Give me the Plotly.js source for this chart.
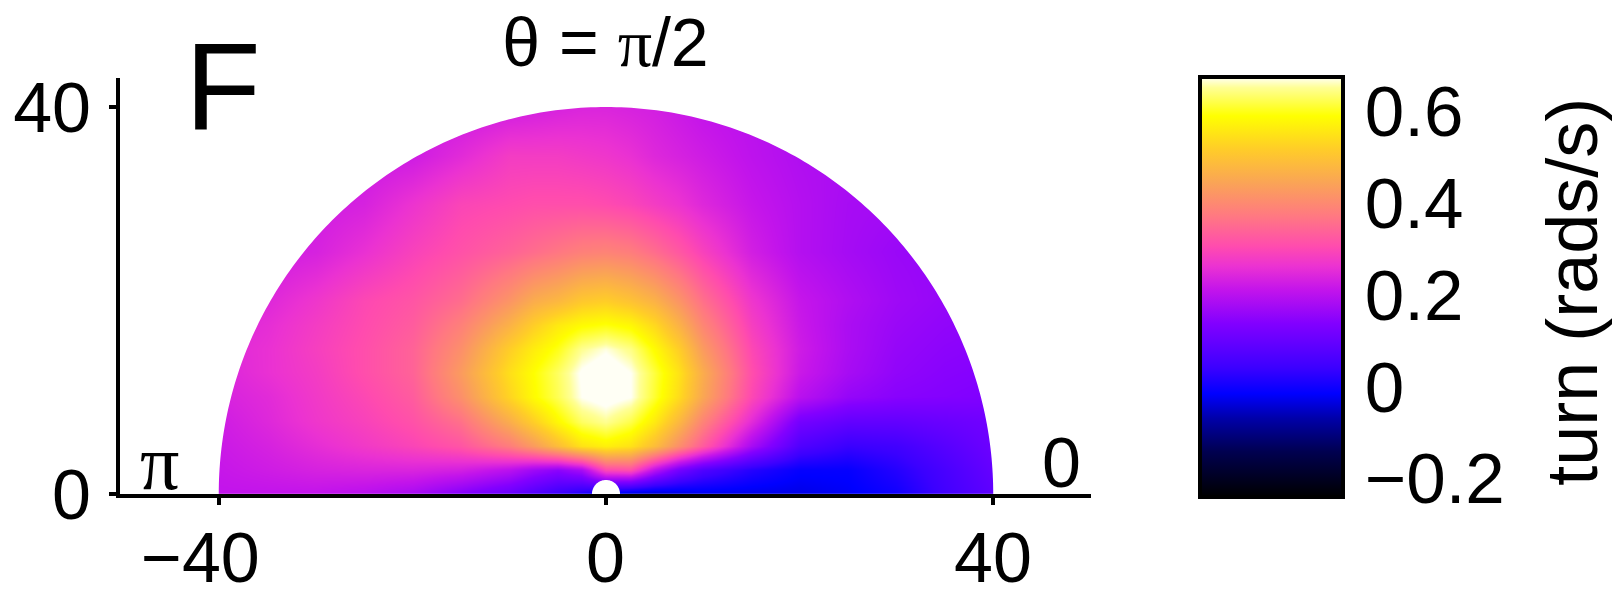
<!DOCTYPE html>
<html>
<head>
<meta charset="utf-8">
<script src="https://cdn.plot.ly/plotly-3.0.1.min.js"></script>
<style>
  html, body { margin: 0; padding: 0; background: #fff; }
  #chart { width: 1621px; height: 596px; }
</style>
</head>
<body>
<div id="chart"></div>
<script>
// Turning rate field over the half-disc of positions (radius 40), heading theta = pi/2.
// Grid centres (x along the baseline, y above it); rows of turnRate follow yCenters.
const xCenters = [-40, -35, -30, -25, -20, -15, -10, -7.5, -5, -2.5, 0, 2.5, 5, 7.5, 10, 15, 20, 25, 30, 35, 40];
const yCenters = [0, 2.5, 5, 7.5, 10, 12.5, 15, 17.5, 20, 25, 30, 35, 40];

const turnRate = [
  [0.21, 0.21, 0.21, 0.20, 0.18, 0.14, 0.10, 0.07, 0.04, 0.01, -0.03, -0.05, -0.05, -0.04, -0.03, -0.03, -0.03, -0.02, 0.00, 0.05, 0.09],
  [0.215, 0.225, 0.235, 0.24, 0.24, 0.23, 0.20, 0.17, 0.15, 0.18, 0.30, 0.31, 0.20, 0.12, 0.07, 0.02, -0.01, -0.01, 0.02, 0.06, 0.10],
  [0.22, 0.235, 0.255, 0.275, 0.295, 0.32, 0.38, 0.43, 0.49, 0.55, 0.57, 0.55, 0.49, 0.41, 0.33, 0.18, 0.07, 0.04, 0.05, 0.08, 0.11],
  [0.225, 0.245, 0.27, 0.29, 0.315, 0.36, 0.46, 0.52, 0.58, 0.63, 0.65, 0.62, 0.56, 0.48, 0.39, 0.25, 0.12, 0.095, 0.095, 0.105, 0.115],
  [0.235, 0.25, 0.275, 0.30, 0.33, 0.41, 0.53, 0.585, 0.625, 0.675, 0.69, 0.675, 0.61, 0.54, 0.45, 0.30, 0.20, 0.16, 0.145, 0.14, 0.135],
  [0.24, 0.26, 0.28, 0.31, 0.34, 0.43, 0.545, 0.59, 0.63, 0.68, 0.70, 0.675, 0.615, 0.55, 0.46, 0.31, 0.22, 0.18, 0.155, 0.145, 0.14],
  [0.245, 0.26, 0.285, 0.31, 0.34, 0.41, 0.52, 0.565, 0.60, 0.65, 0.67, 0.645, 0.585, 0.52, 0.43, 0.30, 0.225, 0.185, 0.16, 0.15, 0.145],
  [0.24, 0.255, 0.28, 0.305, 0.33, 0.385, 0.47, 0.52, 0.56, 0.585, 0.595, 0.58, 0.535, 0.47, 0.395, 0.285, 0.22, 0.185, 0.165, 0.155, 0.15],
  [0.235, 0.245, 0.27, 0.30, 0.32, 0.355, 0.42, 0.46, 0.48, 0.51, 0.52, 0.50, 0.47, 0.42, 0.36, 0.27, 0.215, 0.19, 0.17, 0.16, 0.155],
  [0.225, 0.225, 0.235, 0.26, 0.29, 0.315, 0.34, 0.355, 0.37, 0.385, 0.39, 0.38, 0.355, 0.325, 0.29, 0.23, 0.195, 0.178, 0.165, 0.16, 0.16],
  [0.22, 0.22, 0.225, 0.235, 0.265, 0.295, 0.305, 0.31, 0.31, 0.31, 0.305, 0.295, 0.28, 0.265, 0.245, 0.215, 0.195, 0.18, 0.175, 0.175, 0.175],
  [0.22, 0.22, 0.22, 0.22, 0.225, 0.25, 0.28, 0.28, 0.28, 0.275, 0.27, 0.26, 0.245, 0.235, 0.225, 0.205, 0.19, 0.185, 0.18, 0.18, 0.18],
  [0.22, 0.22, 0.22, 0.22, 0.22, 0.22, 0.225, 0.23, 0.235, 0.24, 0.24, 0.235, 0.23, 0.22, 0.21, 0.20, 0.19, 0.19, 0.19, 0.19, 0.19]
];

const xTickVals = [-40, 0, 40];
const xTickText = ['\u221240', '0', '40'];
const yTickVals = [0, 40];
const cbTickVals = [-0.2, 0, 0.2, 0.4, 0.6];
const cbTickText = ['\u22120.2', '0', '0.2', '0.4', '0.6'];

// Geometry of the sampled region: half-disc of radius 40 with a small notch at the origin.
const R_OUTER = 40;
const R_NOTCH = 1.45;
const X_RANGE = [-50.2, 50.1];
const Y_RANGE = [0, 43];

const SANS = 'Liberation Sans, Arial, Helvetica, sans-serif';
const SERIF = 'Liberation Serif, Times New Roman, serif';

// black -> blue -> violet -> magenta -> pink -> orange -> yellow -> white
const turnColors = [
  [0.000, 'rgb(0,0,0)'],
  [0.108, 'rgb(0,0,80)'],
  [0.188, 'rgb(0,0,170)'],
  [0.246, 'rgb(0,0,255)'],
  [0.308, 'rgb(60,0,255)'],
  [0.413, 'rgb(130,0,255)'],
  [0.493, 'rgb(195,20,235)'],
  [0.549, 'rgb(235,50,210)'],
  [0.596, 'rgb(255,75,175)'],
  [0.668, 'rgb(255,120,130)'],
  [0.750, 'rgb(250,165,85)'],
  [0.829, 'rgb(255,205,40)'],
  [0.907, 'rgb(255,255,0)'],
  [0.975, 'rgb(255,255,150)'],
  [1.000, 'rgb(255,255,245)']
];

// White cover outside the half-disc, so only the sampled region stays coloured.
function arcPoints(r, fromDeg, toDeg, n) {
  const pts = [];
  for (let i = 0; i <= n; i++) {
    const t = (fromDeg + (toDeg - fromDeg) * i / n) * Math.PI / 180;
    pts.push([r * Math.cos(t), r * Math.sin(t)]);
  }
  return pts;
}
function toPath(pts) {
  return pts.map((p, i) => (i === 0 ? 'M' : 'L') + p[0].toFixed(4) + ',' + p[1].toFixed(4)).join(' ') + ' Z';
}
const outerCover = [[-60, 0]].concat(arcPoints(R_OUTER, 180, 0, 240), [[60, 0], [60, 60], [-60, 60]]);
const notch = arcPoints(R_NOTCH, 0, 180, 40);

const trace = {
  type: 'heatmap',
  x: xCenters,
  y: yCenters,
  z: turnRate,
  zsmooth: 'best',
  zmin: -0.24,
  zmax: 0.675,
  colorscale: turnColors,
  hoverinfo: 'skip',
  colorbar: {
    x: 1.1123,
    xanchor: 'left',
    xpad: 0,
    y: 0.4976,
    yanchor: 'middle',
    ypad: 0,
    len: 420,
    lenmode: 'pixels',
    thickness: 143,
    thicknessmode: 'pixels',
    outlinewidth: 4,
    outlinecolor: '#000',
    ticks: 'outside',
    ticklen: 6,
    tickwidth: 1,
    tickcolor: 'rgba(0,0,0,0)',
    tickvals: cbTickVals,
    ticktext: cbTickText,
    tickfont: { family: SANS, size: 71, color: '#000' }
  }
};

const axisFont = { family: SANS, size: 70, color: '#000' };

// x tick labels placed under the axis, one per tick value (the signed one sits a little left)
const xLabelNotes = xTickVals.map((v, i) => ({
  text: xTickText[i], xref: 'x', yref: 'paper', x: v, y: -0.155,
  xshift: v < 0 ? -18 : 0,
  showarrow: false, xanchor: 'center', yanchor: 'middle', font: axisFont
}));

const layout = {
  width: 1621,
  height: 596,
  margin: { l: 120, r: 530, t: 78, b: 102 },
  paper_bgcolor: '#fff',
  plot_bgcolor: '#fff',
  showlegend: false,
  title: {
    text: '\u03b8 = <span style="font-family:' + SERIF + '">\u03c0</span>/2',
    font: { family: SANS, size: 68, color: '#000' },
    x: 0.5,
    xref: 'paper',
    xanchor: 'center',
    y: 0.9295,
    yref: 'container',
    yanchor: 'middle'
  },
  xaxis: {
    range: X_RANGE,
    showgrid: false,
    zeroline: false,
    showline: true,
    linewidth: 4,
    linecolor: '#000',
    ticks: 'outside',
    ticklen: 7,
    tickwidth: 4,
    tickcolor: '#000',
    tickvals: xTickVals,
    showticklabels: false,
    fixedrange: true
  },
  yaxis: {
    range: Y_RANGE,
    showgrid: false,
    zeroline: false,
    showline: true,
    linewidth: 4,
    linecolor: '#000',
    ticks: 'outside',
    ticklen: 7,
    tickwidth: 4,
    tickcolor: '#000',
    tickvals: yTickVals,
    tickfont: axisFont,
    ticklabelstandoff: 4,
    fixedrange: true
  },
  shapes: [
    { type: 'path', xref: 'x', yref: 'y', path: toPath(outerCover), fillcolor: '#fff', line: { width: 0 }, layer: 'above' },
    { type: 'path', xref: 'x', yref: 'y', path: toPath(notch), fillcolor: '#fff', line: { width: 0 }, layer: 'above' }
  ],
  annotations: xLabelNotes.concat([
    { text: 'F', xref: 'x', yref: 'y', x: -39.6, y: 42.1, showarrow: false, xanchor: 'center', yanchor: 'middle',
      font: { family: SANS, size: 124, color: '#000' } },
    { text: '\u03c0', xref: 'x', yref: 'y', x: -46.1, y: 3.3, showarrow: false, xanchor: 'center', yanchor: 'middle',
      font: { family: SERIF, size: 78, color: '#000' } },
    { text: '0', xref: 'x', yref: 'y', x: 47.1, y: 3.2, showarrow: false, xanchor: 'center', yanchor: 'middle',
      font: { family: SANS, size: 70, color: '#000' } },
    { text: 'turn (rads/s)', xref: 'paper', yref: 'paper', x: 1.4954, y: 0.486, showarrow: false, textangle: -90,
      xanchor: 'center', yanchor: 'middle', font: { family: SANS, size: 72, color: '#000' } }
  ])
};

Plotly.newPlot('chart', [trace], layout, { staticPlot: true, displayModeBar: false });
</script>
</body>
</html>
